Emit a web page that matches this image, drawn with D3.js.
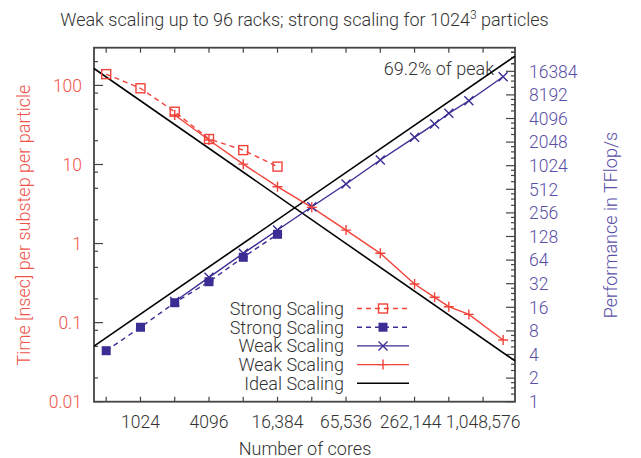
<!DOCTYPE html>
<html>
<head>
<meta charset="utf-8">
<script src="https://cdn.jsdelivr.net/npm/d3@7"></script>
<style>
  html, body { margin: 0; padding: 0; background: #fff; }
  svg { display: block; font-family: Roboto, "DejaVu Sans", sans-serif; font-weight: 300; }
</style>
</head>
<body>
<svg id="chart" width="641" height="458"></svg>
<script>
// Number of cores for each run
const strongCores = [512, 1024, 2048, 4096, 8192, 16384];
const weakCores = [2048, 4096, 8192, 16384, 32768, 65536, 131072, 262144, 393216, 524288, 786432, 1572864];

// Time [nsec] per substep per particle
const strongTime = [139, 92, 46.5, 21, 15.2, 9.4];
const weakTime = [42.3, 20.4, 10.1, 5.24, 2.87, 1.48, 0.753, 0.308, 0.209, 0.159, 0.127, 0.0603];

// Performance in TFlop/s
const strongPerf = [4.47, 8.9, 18.3, 33.9, 69.5, 136.6];
const weakPerf = [19, 38.6, 78, 155, 307, 598, 1210, 2356, 3490, 4770, 6900, 13940];

// Ideal scaling reference lines (end points)
const idealCores = [400, 2000000];
const idealTime = [163.84, 0.032768];
const idealPerf = [5.12, 25600];

// Tick values and labels
const xTickValues = [512, 1024, 2048, 4096, 8192, 16384, 32768, 65536, 131072, 262144, 524288, 1048576];
const xLabelValues = [1024, 4096, 16384, 65536, 262144, 1048576];
const xLabels = ["1024", "4096", "16,384", "65,536", "262,144", "1,048,576"];
const yLeftValues = [100, 10, 1, 0.1, 0.01];
const yLeftLabels = ["100", "10", "1", "0.1", "0.01"];
const yRightValues = [1, 2, 4, 8, 16, 32, 64, 128, 256, 512, 1024, 2048, 4096, 8192, 16384];

const RED = "#f2433b";
const BLUE = "#3a2d93";
const RED_TEXT = "#f0544a";
const BLUE_TEXT = "#5a4fa6";
const GREY = "#333";

const svg = d3.select("#chart");
const L = 94, R = 515, T = 47.7, B = 401.7;

const x = d3.scaleLog().base(2).domain([400, 2000000]).range([L, R]);
const yL = d3.scaleLog().base(10).domain([0.01, 300]).range([B, T]);
const yR = d3.scaleLog().base(2).domain([1, 32768]).range([B, T]);

// Ticks
const tickG = svg.append("g").attr("stroke", "#444").attr("stroke-width", 1.2);
xTickValues.forEach(v => {
  tickG.append("line").attr("x1", x(v)).attr("x2", x(v)).attr("y1", B).attr("y2", B - 5);
  tickG.append("line").attr("x1", x(v)).attr("x2", x(v)).attr("y1", T).attr("y2", T + 5);
});
// Left axis: decades plus minor marks at 2, 5, 8
const leftMinor = [];
[0.01, 0.1, 1, 10, 100].forEach(d => [2, 5, 8].forEach(m => { if (d * m <= 300) leftMinor.push(d * m); }));
yLeftValues.forEach(v => tickG.append("line").attr("x1", L).attr("x2", L + 9).attr("y1", yL(v)).attr("y2", yL(v)));
leftMinor.forEach(v => tickG.append("line").attr("x1", L).attr("x2", L + 4).attr("y1", yL(v)).attr("y2", yL(v)));
// Right axis: powers of two plus quarter subdivisions
const rightMinor = [];
yRightValues.concat([16384]).forEach(p => [1.25, 1.5, 1.75].forEach(m => { if (p * m <= 32768) rightMinor.push(p * m); }));
yRightValues.forEach(v => tickG.append("line").attr("x1", R).attr("x2", R - 9).attr("y1", yR(v)).attr("y2", yR(v)));
rightMinor.forEach(v => tickG.append("line").attr("x1", R).attr("x2", R - 4).attr("y1", yR(v)).attr("y2", yR(v)));

// Border
svg.append("rect").attr("x", L).attr("y", T).attr("width", R - L).attr("height", B - T)
  .attr("fill", "none").attr("stroke", "#444").attr("stroke-width", 1.8);

// Tick labels
const fs = 18, fn = 17.5;
const xLab = svg.append("g").selectAll("text").data(xLabelValues).join("text")
  .attr("x", d => x(d)).attr("y", 428).attr("text-anchor", "middle")
  .attr("font-size", fn).attr("fill", GREY).text((d, i) => xLabels[i]);
// nudge a label left when it would run into its right-hand neighbour
const xNodes = xLab.nodes();
for (let i = xNodes.length - 2; i >= 0; i--) {
  const a = xNodes[i].getBBox(), b = xNodes[i + 1].getBBox();
  const gap = b.x - (a.x + a.width);
  if (gap < 4) xNodes[i].setAttribute("x", +xNodes[i].getAttribute("x") - (4 - gap));
}
svg.append("g").selectAll("text").data(yLeftValues).join("text")
  .attr("x", 82).attr("y", d => yL(d) + 6.3).attr("text-anchor", "end")
  .attr("font-size", fn).attr("fill", RED_TEXT).text((d, i) => yLeftLabels[i]);
svg.append("g").selectAll("text").data(yRightValues).join("text")
  .attr("x", 529).attr("y", d => yR(d) + 6.3).attr("text-anchor", "start")
  .attr("font-size", fn).attr("fill", BLUE_TEXT).text(d => d);

// Axis titles
svg.append("text").attr("x", 305).attr("y", 455).attr("text-anchor", "middle")
  .attr("font-size", fs).attr("fill", GREY).text("Number of cores");
svg.append("text").attr("transform", "translate(30,225) rotate(-90)").attr("text-anchor", "middle")
  .attr("font-size", fs).attr("fill", RED_TEXT).text("Time [nsec] per substep per particle");
svg.append("text").attr("transform", "translate(617,225) rotate(-90)").attr("text-anchor", "middle")
  .attr("font-size", fs).attr("fill", BLUE_TEXT).text("Performance in TFlop/s");

// Title
const title = svg.append("text").attr("x", 304.5).attr("y", 26).attr("text-anchor", "middle")
  .attr("font-size", fs).attr("fill", GREY);
title.append("tspan").text("Weak scaling up to 96 racks; strong scaling for 1024");
title.append("tspan").attr("dy", -7).attr("font-size", 12).text("3");
title.append("tspan").attr("dy", 7).text(" particles");

// Peak annotation
svg.append("text").attr("x", 494).attr("y", 75).attr("text-anchor", "end")
  .attr("font-size", fs).attr("fill", GREY).text("69.2% of peak");

// Lines
const plot = svg.append("g");
const lineL = d3.line().x(d => x(d[0])).y(d => yL(d[1]));
const lineR = d3.line().x(d => x(d[0])).y(d => yR(d[1]));
const zip = (a, b) => a.map((v, i) => [v, b[i]]);

plot.append("path").attr("d", lineL(zip(idealCores, idealTime))).attr("fill", "none").attr("stroke", "#000").attr("stroke-width", 1.6);
plot.append("path").attr("d", lineR(zip(idealCores, idealPerf))).attr("fill", "none").attr("stroke", "#000").attr("stroke-width", 1.6);

plot.append("path").attr("d", lineL(zip(strongCores, strongTime))).attr("fill", "none")
  .attr("stroke", RED).attr("stroke-width", 1.4).attr("stroke-dasharray", "5,4");
plot.append("path").attr("d", lineR(zip(strongCores, strongPerf))).attr("fill", "none")
  .attr("stroke", BLUE).attr("stroke-width", 1.4).attr("stroke-dasharray", "5,4");
plot.append("path").attr("d", lineR(zip(weakCores, weakPerf))).attr("fill", "none")
  .attr("stroke", BLUE).attr("stroke-width", 1.4);
plot.append("path").attr("d", lineL(zip(weakCores, weakTime))).attr("fill", "none")
  .attr("stroke", RED).attr("stroke-width", 1.4);

// Markers
function openSquare(g, cx, cy) {
  g.append("rect").attr("x", cx - 4.5).attr("y", cy - 4.5).attr("width", 9).attr("height", 9)
    .attr("fill", "none").attr("stroke", RED).attr("stroke-width", 1.4);
}
function filledSquare(g, cx, cy) {
  g.append("rect").attr("x", cx - 4.5).attr("y", cy - 4.5).attr("width", 9).attr("height", 9).attr("fill", BLUE);
}
function cross(g, cx, cy) {
  g.append("path").attr("d", `M${cx - 4.5},${cy - 4.5}L${cx + 4.5},${cy + 4.5}M${cx - 4.5},${cy + 4.5}L${cx + 4.5},${cy - 4.5}`)
    .attr("stroke", BLUE).attr("stroke-width", 1.4);
}
function plus(g, cx, cy) {
  g.append("path").attr("d", `M${cx - 5},${cy}L${cx + 5},${cy}M${cx},${cy - 5}L${cx},${cy + 5}`)
    .attr("stroke", RED).attr("stroke-width", 1.4);
}
strongCores.forEach((c, i) => openSquare(plot, x(c), yL(strongTime[i])));
strongCores.forEach((c, i) => filledSquare(plot, x(c), yR(strongPerf[i])));
weakCores.forEach((c, i) => cross(plot, x(c), yR(weakPerf[i])));
weakCores.forEach((c, i) => plus(plot, x(c), yL(weakTime[i])));

// Legend
const legend = [
  { label: "Strong Scaling", color: RED, dash: "5,4", mark: openSquare },
  { label: "Strong Scaling", color: BLUE, dash: "5,4", mark: filledSquare },
  { label: "Weak Scaling", color: BLUE, dash: null, mark: cross },
  { label: "Weak Scaling", color: RED, dash: null, mark: plus },
  { label: "Ideal Scaling", color: "#000", dash: null, mark: null }
];
const lg = svg.append("g");
legend.forEach((e, i) => {
  const cy = 308.5 + i * 18.7;
  lg.append("text").attr("x", 344).attr("y", cy + 6.3).attr("text-anchor", "end")
    .attr("font-size", fs).attr("fill", GREY).text(e.label);
  lg.append("line").attr("x1", 357).attr("x2", 409).attr("y1", cy).attr("y2", cy)
    .attr("stroke", e.color).attr("stroke-width", e.mark ? 1.4 : 1.6)
    .attr("stroke-dasharray", e.dash);
  if (e.mark) e.mark(lg, 383, cy);
});
</script>
</body>
</html>
